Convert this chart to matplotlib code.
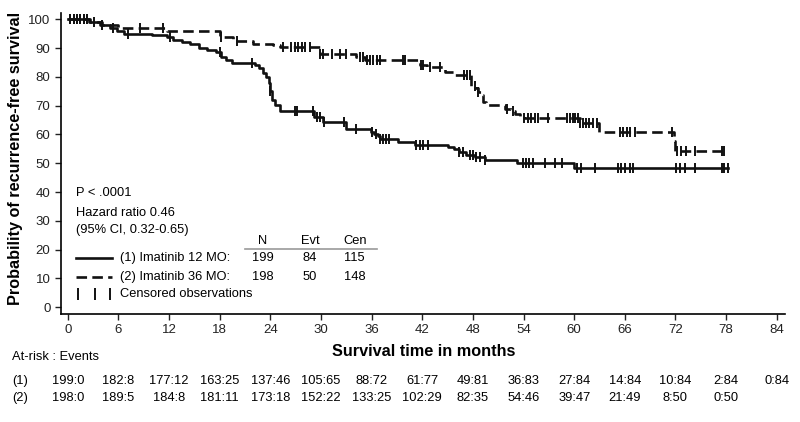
import numpy as np
import matplotlib
matplotlib.use("Agg")
import matplotlib.pyplot as plt
import matplotlib.transforms as mtransforms

plt.rcParams['font.family'] = ['Liberation Sans', 'DejaVu Sans']

# step points (time in months, survival %)
t1 = [0, 2.6, 3.8, 5.0, 5.8, 6.7, 10.0, 11.8, 12.5, 13.5, 14.5, 15.5, 16.5, 17.5, 18.2, 18.8, 19.4,
      22.2, 22.7, 23.1, 23.5, 23.8, 24.0, 24.2, 24.5, 25.1, 29.2, 30.2, 33.0, 35.9, 36.3, 36.7, 37.0,
      39.1, 41.1, 45.0, 45.7, 46.4, 47.2, 48.2, 49.4, 53.2, 60.0]
s1 = [100, 99, 98, 97, 96, 95, 94.5, 94, 93, 92, 91.5, 90, 89.5, 88.5, 87, 86, 85,
      84, 83, 81.5, 80, 78, 75, 72, 70.3, 68.2, 66.2, 64.5, 62, 61, 60, 59.5, 58.5,
      57.5, 56.5, 55.5, 55, 54, 53, 52, 51, 50, 48.2]
t2 = [0, 2.5, 4.0, 6.0, 11.8, 18.0, 19.6, 22.0, 24.3, 25.2, 29.9, 34.2, 35.2, 41.7, 42.5, 44.7,
      45.9, 47.8, 48.3, 48.6, 48.9, 49.2, 49.6, 51.8, 52.5, 53.0, 53.6, 54.1, 60.7, 62.9, 71.8, 72.0]
s2 = [100, 99, 98, 97, 95.8, 94, 92.6, 91.5, 91, 90.3, 88, 86.9, 86, 84, 83.4, 81.7,
      80.6, 77, 76, 74.8, 73.7, 71.4, 70.2, 69, 68, 67, 66.5, 65.6, 63.9, 60.8, 57.6, 54.1]

# censored times
c1 = [0.3, 0.7, 1.1, 1.5, 1.9, 2.3, 4.0, 5.3, 7.1, 12.1, 18.0, 21.8, 24.0, 26.9, 27.2, 29.0, 29.5,
      29.9, 30.3, 32.7, 34.2, 36.0, 36.5, 37.0, 37.3, 37.7, 38.1, 41.3, 41.7, 42.1, 42.7, 46.4, 46.8,
      47.6, 48.0, 48.4, 48.8, 49.4, 53.9, 54.3, 54.7, 55.1, 56.5, 57.7, 58.6, 60.3, 60.8, 62.5, 65.2,
      65.6, 66.0, 66.6, 67.0, 72.1, 72.5, 73.1, 74.3, 77.5, 77.8, 78.2]
c2 = [0.3, 0.7, 1.1, 1.5, 1.9, 2.3, 3.1, 8.5, 11.3, 18.2, 20.0, 25.5, 26.5, 26.9, 27.3, 27.7, 28.1,
      28.7, 29.9, 30.2, 31.3, 32.2, 33.0, 34.6, 35.0, 35.4, 35.8, 36.2, 36.6, 37.0, 39.7, 40.0, 41.8,
      42.1, 42.9, 44.1, 47.0, 47.3, 47.6, 48.2, 48.6, 52.0, 52.7, 54.1, 54.5, 54.9, 55.3, 55.7, 56.9,
      59.2, 59.5, 59.8, 60.1, 60.4, 60.7, 61.0, 61.4, 61.8, 62.2, 62.7, 65.4, 65.8, 66.2, 66.6, 67.2,
      71.6, 72.2, 72.7, 73.3, 74.3, 77.5, 77.8]

xticks = list(range(0, 85, 6))
risk1 = ['199:0', '182:8', '177:12', '163:25', '137:46', '105:65', '88:72', '61:77', '49:81',
         '36:83', '27:84', '14:84', '10:84', '2:84', '0:84']
risk2 = ['198:0', '189:5', '184:8', '181:11', '173:18', '152:22', '133:25', '102:29', '82:35',
         '54:46', '39:47', '21:49', '8:50', '0:50']

fig = plt.figure(figsize=(8, 4.22), dpi=100)
ax = fig.add_axes([0.076, 0.256, 0.905, 0.713])
col = '#111111'

def km(ax, t, s, c, ls):
    t = np.array(t); s = np.array(s); c = np.array(c)
    tt = np.append(t, c.max())
    ss = np.append(s, s[-1])
    ax.step(tt, ss, where='post', color=col, lw=1.9, ls=ls)
    idx = np.searchsorted(t, c, side='right') - 1
    ax.plot(c, s[idx], ls='none', marker='|', ms=7.5, mew=1.4, color=col)

km(ax, t1, s1, c1, '-')
km(ax, t2, s2, c2, (0, (4, 2)))

ax.set_xlim(-0.83, 84.95)
ax.set_ylim(-2.4, 102.2)
ax.set_xticks(xticks)
ax.set_yticks(range(0, 101, 10))
ax.tick_params(labelsize=9.5, length=4, width=1, colors='#222222')
for sp in ['top', 'right']:
    ax.spines[sp].set_visible(False)
for sp in ['left', 'bottom']:
    ax.spines[sp].set_linewidth(1.2)

fs = 9.3
ax.text(0.95, 39.7, 'P < .0001', fontsize=fs, va='center')
ax.text(0.95, 32.8, 'Hazard ratio 0.46', fontsize=fs, va='center')
ax.text(0.95, 26.9, '(95% CI, 0.32-0.65)', fontsize=fs, va='center')
for x, h in zip([23.1, 28.7, 34.0], ['N', 'Evt', 'Cen']):
    ax.text(x, 22.8, h, fontsize=fs, ha='center', va='center')
ax.plot([21, 36.6], [20.3, 20.3], color='#999999', lw=1.2)
ax.plot([0.95, 5.2], [16.9, 16.9], color=col, lw=1.9)
ax.plot([0.95, 5.2], [10.3, 10.3], color=col, lw=1.9, ls=(0, (4, 2)))
ax.plot([1.2, 3.2, 5.0], [4.5, 4.5, 4.5], ls='none', marker='|', ms=8, mew=1.4, color=col)
ax.text(6.2, 16.9, '(1) Imatinib 12 MO:', fontsize=fs, va='center')
ax.text(6.2, 10.3, '(2) Imatinib 36 MO:', fontsize=fs, va='center')
ax.text(6.2, 4.5, 'Censored observations', fontsize=fs, va='center')
for x, v in zip([23.1, 28.7, 34.0], ['199', '84', '115']):
    ax.text(x, 16.9, v, fontsize=fs, ha='center', va='center')
for x, v in zip([23.1, 28.7, 34.0], ['198', '50', '148']):
    ax.text(x, 10.3, v, fontsize=fs, ha='center', va='center')

fig.text(0.02, 0.625, 'Probability of recurrence-free survival', rotation=90, fontsize=11.7,
         fontweight='bold', ha='center', va='center')
fig.text(0.53, 0.168, 'Survival time in months', fontsize=11.7, fontweight='bold',
         ha='center', va='center')

# at-risk table
trans = mtransforms.blended_transform_factory(ax.transData, fig.transFigure)
fig.text(0.015, 0.154, 'At-risk : Events', fontsize=fs, va='center')
fig.text(0.015, 0.096, '(1)', fontsize=fs, va='center')
fig.text(0.015, 0.058, '(2)', fontsize=fs, va='center')
for x, v in zip(xticks, risk1):
    ax.text(x, 0.096, v, fontsize=fs, ha='center', va='center', transform=trans)
for x, v in zip(xticks, risk2):
    ax.text(x, 0.058, v, fontsize=fs, ha='center', va='center', transform=trans)

fig.savefig('out.png', dpi=100)
